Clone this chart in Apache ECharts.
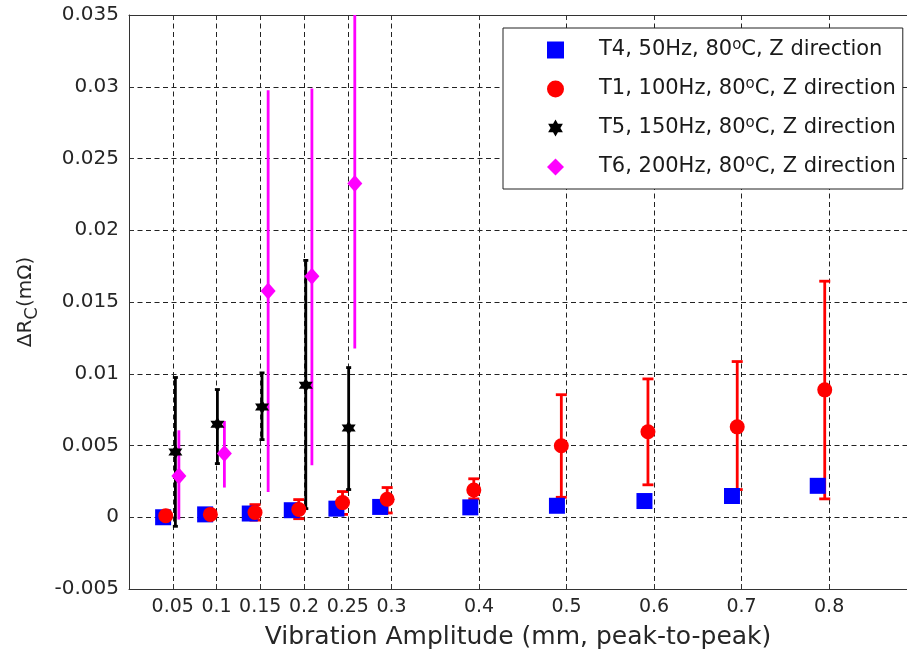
<!DOCTYPE html>
<html><head><meta charset="utf-8">
<script src="https://cdn.jsdelivr.net/npm/echarts@6/dist/echarts.min.js"></script>
<style>html,body{margin:0;padding:0;background:#fff}#c{width:907px;height:658px}</style>
</head><body><div id="c"></div>
<script>
// ---- data ----
const xTicks = [0.05, 0.1, 0.15, 0.2, 0.25, 0.3, 0.4, 0.5, 0.6, 0.7, 0.8];
const yTicks = [-0.005, 0, 0.005, 0.01, 0.015, 0.02, 0.025, 0.03, 0.035];
const seriesNames = ['T4, 50Hz, 80oC, Z direction', 'T1, 100Hz, 80oC, Z direction', 'T5, 150Hz, 80oC, Z direction', 'T6, 200Hz, 80oC, Z direction'];

const t4X = [0.039, 0.087, 0.138, 0.186, 0.237, 0.287, 0.390, 0.489, 0.589, 0.689, 0.787];
const t4Y = [0.0000, 0.0002, 0.00026, 0.00049, 0.0006, 0.00072, 0.00069, 0.0008, 0.00113, 0.00148, 0.00219];

const t1X = [0.042, 0.093, 0.144, 0.194, 0.244, 0.295, 0.394, 0.494, 0.593, 0.695, 0.795];
const t1Y = [0.0001, 0.0002, 0.00033, 0.00054, 0.00102, 0.00125, 0.0019, 0.00498, 0.00596, 0.0063, 0.00888];
const t1Lo = [0.0000, 0.0001, -0.0002, -0.0001, 0.0002, 0.0003, 0.00128, 0.00139, 0.00226, 0.00193, 0.00128];
const t1Hi = [0.0002, 0.0003, 0.00088, 0.00123, 0.00179, 0.00207, 0.00268, 0.00854, 0.00964, 0.01085, 0.01645];

const t5X = [0.053, 0.101, 0.152, 0.202, 0.251];
const t5Y = [0.00455, 0.00648, 0.00769, 0.0092, 0.00622];
const t5Lo = [-0.00063, 0.00374, 0.00541, 0.0006, 0.00193];
const t5Hi = [0.00974, 0.0089, 0.01006, 0.0179, 0.01043];

const t6X = [0.057, 0.109, 0.159, 0.209, 0.258];
const t6Y = [0.00288, 0.00444, 0.01577, 0.01679, 0.02325];
const t6Lo = [-0.00016, 0.00207, 0.00176, 0.00362, 0.01176];
const t6Hi = [0.00606, 0.00671, 0.02976, 0.02987, 0.0352];

// ---- helpers ----
const FONT = 'DejaVu Sans';
const STAR = 'path://M0,-10L8.66,5L-8.66,5Z M0,10L-8.66,-5L8.66,-5Z';
const pts = (xs, ys) => xs.map((x, i) => [x, ys[i]]);
const errs = (xs, lo, hi) => xs.map((x, i) => [x, lo[i], hi[i]]);
const fmt = v => String(parseFloat((+v).toFixed(4)));

function errRender(color, capW, lw) {
  return function (params, api) {
    const x = api.value(0), lo = api.value(1), hi = api.value(2);
    const p1 = api.coord([x, lo]), p2 = api.coord([x, hi]);
    const st = { stroke: color, lineWidth: lw };
    const ch = [{ type: 'line', shape: { x1: p1[0], y1: p1[1], x2: p2[0], y2: p2[1] }, style: st }];
    if (capW > 0) {
      ch.push({ type: 'line', shape: { x1: p1[0] - capW / 2, y1: p1[1], x2: p1[0] + capW / 2, y2: p1[1] }, style: st });
      ch.push({ type: 'line', shape: { x1: p2[0] - capW / 2, y1: p2[1], x2: p2[0] + capW / 2, y2: p2[1] }, style: st });
    }
    return { type: 'group', children: ch };
  };
}
function errSeries(name, data, color, capW, lw) {
  return { type: 'custom', name: name, data: data, encode: { x: 0, y: [1, 2] }, clip: true,
    renderItem: errRender(color, capW, lw), silent: true };
}
function scatter(name, data, color, symbol, size) {
  return { type: 'scatter', name: name, data: data, symbol: symbol, symbolSize: size,
    itemStyle: { color: color, opacity: 1 }, clip: true, silent: true };
}

const axisColor = '#262626';
const XMAX = 0.889;
const gridLine = { show: true, lineStyle: { type: [5, 3.5], color: '#222', width: 1 } };
const chart = echarts.init(document.getElementById('c'), null, { renderer: 'canvas' });
chart.setOption({
  animation: false,
  backgroundColor: '#fff',
  textStyle: { fontFamily: FONT },
  grid: { left: 129, top: 15, width: 778, height: 574, containLabel: false },
  xAxis: [{
    type: 'value', min: 0, max: XMAX, position: 'bottom',
    name: 'Vibration Amplitude (mm, peak-to-peak)', nameLocation: 'middle', nameGap: 36,
    nameTextStyle: { fontFamily: FONT, fontSize: 25, color: axisColor },
    axisLine: { show: true, onZero: false, lineStyle: { color: '#333', width: 1 } },
    axisTick: { show: true, inside: true, length: 5, customValues: xTicks, lineStyle: { color: '#333' } },
    axisLabel: { customValues: xTicks, formatter: fmt, margin: 9, fontFamily: FONT, fontSize: 19, color: axisColor },
    splitLine: gridLine
  }, {
    type: 'value', min: 0, max: XMAX, position: 'top',
    axisLine: { show: true, onZero: false, lineStyle: { color: '#333', width: 1 } },
    axisTick: { show: true, inside: true, length: 5, customValues: xTicks, lineStyle: { color: '#333' } },
    axisLabel: { show: false }, splitLine: { show: false }
  }],
  yAxis: [{
    type: 'value', min: yTicks[0], max: yTicks[yTicks.length - 1], interval: 0.005,
    name: '{n|ΔR}{s|C}{n|(mΩ)}', nameLocation: 'middle', nameGap: 88,
    nameTextStyle: { rich: {
      n: { fontFamily: FONT, fontSize: 20, color: axisColor },
      s: { fontFamily: FONT, fontSize: 18, color: axisColor, padding: [12, 0, 0, 0] } } },
    axisLine: { show: true, onZero: false, lineStyle: { color: '#333', width: 1 } },
    axisTick: { show: true, inside: true, length: 5, lineStyle: { color: '#333' } },
    axisLabel: { formatter: fmt, margin: 10, fontFamily: FONT, fontSize: 20, color: axisColor },
    splitLine: gridLine
  }],
  legend: {
    orient: 'vertical', left: 503, top: 28,
    backgroundColor: '#fff', borderColor: '#222', borderWidth: 1, borderRadius: 0,
    padding: [10, 7, 10, 44], itemGap: 15, itemWidth: 17, itemHeight: 17,
    textStyle: { fontFamily: FONT, fontSize: 21, color: '#1a1a1a', lineHeight: 24, padding: [0, 0, 0, 30],
      rich: { sup: { fontFamily: FONT, fontSize: 15, color: '#1a1a1a', verticalAlign: 'top', lineHeight: 10 } } },
    formatter: n => n.replace('80oC', '80{sup|o}C'),
    data: [
      { name: seriesNames[0], icon: 'rect' },
      { name: seriesNames[1], icon: 'circle' },
      { name: seriesNames[2], icon: STAR },
      { name: seriesNames[3], icon: 'diamond' }
    ],
    selectedMode: false
  },
  series: [
    scatter(seriesNames[0], pts(t4X, t4Y), '#0000ff', 'rect', 16),
    errSeries('errT1', errs(t1X, t1Lo, t1Hi), '#ff0000', 11, 2.8),
    scatter(seriesNames[1], pts(t1X, t1Y), '#ff0000', 'circle', 15),
    errSeries('errT5', errs(t5X, t5Lo, t5Hi), '#000000', 5, 2.8),
    scatter(seriesNames[2], pts(t5X, t5Y), '#000000', STAR, 14),
    errSeries('errT6', errs(t6X, t6Lo, t6Hi), '#ff00ff', 0, 2.8),
    scatter(seriesNames[3], pts(t6X, t6Y), '#ff00ff', 'diamond', [15, 17])
  ]
});
</script></body></html>
